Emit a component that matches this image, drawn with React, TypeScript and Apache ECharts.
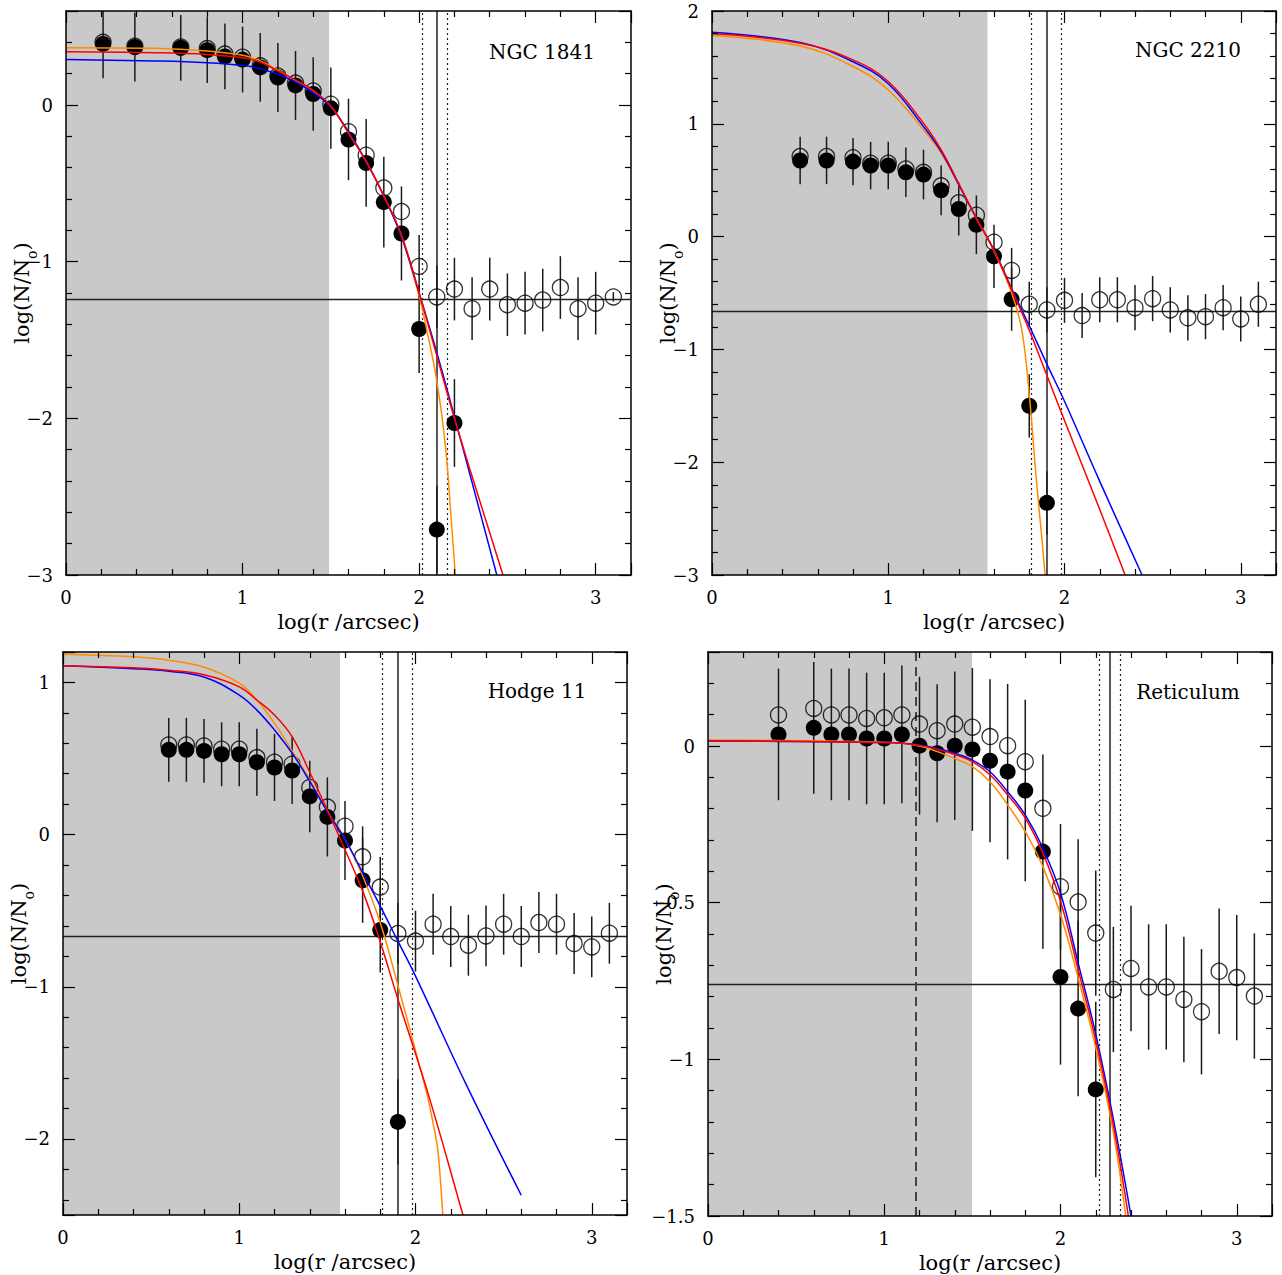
import React, { useEffect, useRef } from "react";
import * as echarts from "echarts";

const FONT = "'DejaVu Serif', 'Liberation Serif', serif";

// ---------------- NGC 1841 ----------------
const n1841Label = "NGC 1841";
const n1841FilledX = [0.21, 0.39, 0.65, 0.8, 0.9, 1.0, 1.1, 1.2, 1.3, 1.4, 1.5, 1.6, 1.7, 1.8, 1.9, 2.0, 2.1, 2.2];
const n1841FilledY = [0.39, 0.37, 0.365, 0.35, 0.31, 0.29, 0.24, 0.175, 0.125, 0.07, -0.02, -0.22, -0.37, -0.62, -0.82, -1.43, -2.71, -2.03];
const n1841FilledErr = [0.22, 0.22, 0.21, 0.21, 0.21, 0.21, 0.22, 0.22, 0.22, 0.235, 0.26, 0.26, 0.28, 0.29, 0.3, 0.28, 0.28, 0.28];
const n1841OpenX = [0.21, 0.39, 0.65, 0.8, 0.9, 1.0, 1.1, 1.2, 1.3, 1.4, 1.5, 1.6, 1.7, 1.8, 1.9, 2.0, 2.1, 2.2, 2.3, 2.4, 2.5, 2.6, 2.7, 2.8, 2.9, 3.0, 3.1];
const n1841OpenY = [0.4, 0.375, 0.37, 0.36, 0.325, 0.305, 0.25, 0.185, 0.14, 0.09, 0.005, -0.17, -0.32, -0.53, -0.68, -1.03, -1.225, -1.175, -1.3, -1.175, -1.275, -1.265, -1.245, -1.165, -1.3, -1.265, -1.225];
const n1841OpenErr = [0, 0, 0, 0, 0, 0, 0, 0, 0, 0, 0, 0, 0, 0, 0, 0.2, 0.2, 0.2, 0.2, 0.2, 0.2, 0.2, 0.2, 0.2, 0.2, 0.2, 0.03];
const n1841Blue = [[0, 0.291], [0.5, 0.281], [0.8, 0.27], [1.0, 0.253], [1.1, 0.232], [1.2, 0.196], [1.3, 0.147], [1.4, 0.079], [1.5, -0.013], [1.6, -0.17], [1.7, -0.36], [1.8, -0.58], [1.9, -0.84], [2.0, -1.2], [2.1, -1.58], [2.2, -1.99], [2.3, -2.41], [2.44, -3.0]];
const n1841Red = [[0, 0.34], [0.5, 0.334], [0.8, 0.323], [1.0, 0.302], [1.1, 0.274], [1.2, 0.217], [1.3, 0.16], [1.4, 0.094], [1.5, -0.006], [1.6, -0.18], [1.7, -0.36], [1.8, -0.58], [1.9, -0.83], [2.0, -1.2], [2.1, -1.6], [2.2, -2.0], [2.3, -2.37], [2.4, -2.73], [2.475, -3.0]];
const n1841Orange = [[0, 0.366], [0.5, 0.362], [0.8, 0.345], [1.0, 0.317], [1.1, 0.281], [1.2, 0.222], [1.3, 0.156], [1.4, 0.09], [1.5, -0.01], [1.6, -0.18], [1.7, -0.36], [1.8, -0.58], [1.9, -0.84], [2.0, -1.22], [2.04, -1.42], [2.1, -1.76], [2.15, -2.19], [2.18, -2.62], [2.205, -3.0]];
const n1841Background = -1.24;
const n1841Solid = [2.1];
const n1841Dotted = [2.02, 2.16];
const n1841Dashed: number[] = [];
const n1841Shade = 1.49;

// ---------------- NGC 2210 ----------------
const n2210Label = "NGC 2210";
const n2210FilledX = [0.5, 0.65, 0.8, 0.9, 1.0, 1.1, 1.2, 1.3, 1.4, 1.5, 1.6, 1.7, 1.8, 1.9];
const n2210FilledY = [0.675, 0.675, 0.665, 0.63, 0.63, 0.57, 0.55, 0.41, 0.245, 0.105, -0.175, -0.555, -1.5, -2.36];
const n2210FilledErr = [0.21, 0.21, 0.21, 0.21, 0.21, 0.22, 0.22, 0.22, 0.235, 0.26, 0.28, 0.28, 0.28, 0.28];
const n2210OpenX = [0.5, 0.65, 0.8, 0.9, 1.0, 1.1, 1.2, 1.3, 1.4, 1.5, 1.6, 1.7, 1.8, 1.9, 2.0, 2.1, 2.2, 2.3, 2.4, 2.5, 2.6, 2.7, 2.8, 2.9, 3.0, 3.1];
const n2210OpenY = [0.71, 0.71, 0.7, 0.65, 0.65, 0.6, 0.57, 0.45, 0.3, 0.19, -0.05, -0.3, -0.6, -0.65, -0.565, -0.7, -0.56, -0.56, -0.63, -0.55, -0.65, -0.72, -0.71, -0.63, -0.73, -0.6];
const n2210OpenErr = [0, 0, 0, 0, 0, 0, 0, 0, 0, 0, 0, 0.2, 0.2, 0.2, 0.2, 0.2, 0.2, 0.2, 0.2, 0.2, 0.2, 0.2, 0.2, 0.2, 0.2, 0.2];
const n2210Blue = [[0, 1.812], [0.5, 1.72], [0.8, 1.55], [1.0, 1.355], [1.2, 0.976], [1.3, 0.755], [1.4, 0.46], [1.5, 0.164], [1.6, -0.12], [1.7, -0.46], [1.8, -0.79], [1.9, -1.13], [2.0, -1.46], [2.2, -2.17], [2.44, -3.0]];
const n2210Red = [[0, 1.798], [0.5, 1.715], [0.8, 1.567], [1.0, 1.375], [1.2, 1.006], [1.3, 0.77], [1.4, 0.47], [1.5, 0.164], [1.6, -0.12], [1.7, -0.47], [1.8, -0.83], [1.9, -1.23], [2.0, -1.63], [2.2, -2.42], [2.344, -3.0]];
const n2210Orange = [[0, 1.783], [0.5, 1.69], [0.8, 1.508], [1.0, 1.3], [1.2, 0.947], [1.3, 0.74], [1.4, 0.46], [1.5, 0.16], [1.6, -0.13], [1.7, -0.5], [1.757, -0.82], [1.8, -1.4], [1.84, -2.15], [1.87, -2.65], [1.89, -3.0]];
const n2210Background = -0.662;
const n2210Solid = [1.903];
const n2210Dotted = [1.813, 1.981];
const n2210Dashed: number[] = [];
const n2210Shade = 1.563;

// ---------------- Hodge 11 ----------------
const h11Label = "Hodge 11";
const h11FilledX = [0.6, 0.7, 0.8, 0.9, 1.0, 1.1, 1.2, 1.3, 1.4, 1.5, 1.6, 1.7, 1.8, 1.9];
const h11FilledY = [0.557, 0.557, 0.55, 0.528, 0.528, 0.476, 0.441, 0.421, 0.251, 0.116, -0.039, -0.3, -0.627, -1.888];
const h11FilledErr = [0.21, 0.21, 0.21, 0.21, 0.21, 0.22, 0.22, 0.22, 0.235, 0.26, 0.26, 0.28, 0.28, 0.28];
const h11OpenX = [0.6, 0.7, 0.8, 0.9, 1.0, 1.1, 1.2, 1.3, 1.4, 1.5, 1.6, 1.7, 1.8, 1.9, 2.0, 2.1, 2.2, 2.3, 2.4, 2.5, 2.6, 2.7, 2.8, 2.9, 3.0, 3.1];
const h11OpenY = [0.589, 0.589, 0.583, 0.561, 0.561, 0.506, 0.476, 0.463, 0.31, 0.181, 0.055, -0.146, -0.345, -0.65, -0.7, -0.589, -0.67, -0.727, -0.666, -0.589, -0.67, -0.578, -0.589, -0.716, -0.738, -0.648];
const h11OpenErr = [0, 0, 0, 0, 0, 0, 0, 0, 0, 0, 0, 0.2, 0.2, 0.2, 0.2, 0.2, 0.2, 0.2, 0.2, 0.2, 0.2, 0.2, 0.2, 0.2, 0.2, 0.2];
const h11Blue = [[0, 1.109], [0.4, 1.09], [0.6, 1.074], [0.8, 1.036], [1.0, 0.917], [1.1, 0.818], [1.2, 0.688], [1.3, 0.535], [1.4, 0.35], [1.5, 0.15], [1.6, -0.03], [1.7, -0.25], [1.8, -0.47], [1.9, -0.7], [2.0, -0.93], [2.29, -1.648], [2.6, -2.37]];
const h11Red = [[0, 1.109], [0.4, 1.096], [0.6, 1.08], [0.8, 1.05], [1.0, 0.971], [1.1, 0.884], [1.2, 0.786], [1.3, 0.644], [1.4, 0.41], [1.5, 0.16], [1.6, -0.1], [1.7, -0.37], [1.788, -0.662], [1.9, -1.08], [2.08, -1.735], [2.267, -2.49], [2.27, -2.5]];
const h11Orange = [[0, 1.185], [0.4, 1.168], [0.6, 1.146], [0.8, 1.1], [1.0, 0.995], [1.1, 0.884], [1.2, 0.731], [1.3, 0.55], [1.4, 0.36], [1.5, 0.153], [1.6, -0.03], [1.7, -0.27], [1.8, -0.58], [1.9, -0.99], [2.0, -1.42], [2.07, -1.73], [2.1, -1.9], [2.124, -2.05], [2.14, -2.25], [2.155, -2.5]];
const h11Background = -0.672;
const h11Solid = [1.903];
const h11Dotted = [1.815, 1.977];
const h11Dashed: number[] = [];
const h11Shade = 1.572;

// ---------------- Reticulum ----------------
const retLabel = "Reticulum";
const retFilledX = [0.4, 0.6, 0.7, 0.8, 0.9, 1.0, 1.1, 1.2, 1.3, 1.4, 1.5, 1.6, 1.7, 1.8, 1.9, 2.0, 2.1, 2.2];
const retFilledY = [0.037, 0.058, 0.037, 0.037, 0.024, 0.024, 0.037, 0.001, -0.023, 0.001, -0.011, -0.047, -0.082, -0.142, -0.337, -0.737, -0.838, -1.096];
const retFilledErr = [0.21, 0.21, 0.21, 0.21, 0.21, 0.21, 0.22, 0.22, 0.22, 0.237, 0.26, 0.26, 0.28, 0.29, 0.31, 0.28, 0.28, 0.28];
const retOpenX = [0.4, 0.6, 0.7, 0.8, 0.9, 1.0, 1.1, 1.2, 1.3, 1.4, 1.5, 1.6, 1.7, 1.8, 1.9, 2.0, 2.1, 2.2, 2.3, 2.4, 2.5, 2.6, 2.7, 2.8, 2.9, 3.0, 3.1];
const retOpenY = [0.099, 0.12, 0.099, 0.099, 0.088, 0.09, 0.099, 0.07, 0.049, 0.07, 0.06, 0.03, 0.001, -0.05, -0.199, -0.449, -0.498, -0.597, -0.777, -0.71, -0.769, -0.769, -0.809, -0.848, -0.719, -0.739, -0.798];
const retOpenErr = [0, 0, 0, 0, 0, 0, 0, 0, 0, 0, 0, 0, 0, 0, 0, 0.2, 0.2, 0.2, 0.2, 0.2, 0.2, 0.2, 0.2, 0.2, 0.2, 0.2, 0.2];
const retBlue = [[0, 0.016], [1.0, 0.011], [1.2, 0.003], [1.4, -0.023], [1.5, -0.045], [1.6, -0.082], [1.7, -0.146], [1.8, -0.22], [1.9, -0.326], [2.0, -0.469], [2.1, -0.692], [2.2, -0.92], [2.3, -1.191], [2.4, -1.5]];
const retRed = [[0, 0.016], [1.0, 0.011], [1.2, 0.002], [1.4, -0.027], [1.5, -0.05], [1.6, -0.092], [1.7, -0.156], [1.8, -0.23], [1.9, -0.342], [2.0, -0.495], [2.1, -0.713], [2.2, -0.94], [2.3, -1.21], [2.385, -1.5]];
const retOrange = [[0, 0.019], [1.0, 0.012], [1.2, 0.0], [1.4, -0.04], [1.5, -0.066], [1.6, -0.114], [1.7, -0.188], [1.8, -0.273], [1.9, -0.385], [2.0, -0.538], [2.1, -0.74], [2.2, -0.963], [2.3, -1.234], [2.37, -1.5]];
const retBackground = -0.764;
const retSolid = [2.284];
const retDotted = [2.22, 2.338];
const retDashed = [1.179];
const retShade = 1.498;

// axis ranges: [xMin, xMax, xStep, yMin, yMax, yStep]
const n1841Range = [0, 3.2, 1, -3, 0.6, 1];
const n2210Range = [0, 3.2, 1, -3, 2, 1];
const h11Range = [0, 3.2, 1, -2.5, 1.2, 1];
const retRange = [0, 3.2, 1, -1.5, 0.3, 0.5];

const panels = [
  { label: n1841Label, fx: n1841FilledX, fy: n1841FilledY, fe: n1841FilledErr, ox: n1841OpenX, oy: n1841OpenY, oe: n1841OpenErr, blue: n1841Blue, red: n1841Red, orange: n1841Orange, bg: n1841Background, solid: n1841Solid, dotted: n1841Dotted, dashed: n1841Dashed, shade: n1841Shade, range: n1841Range, grid: { left: 66, top: 11, width: 565, height: 564 }, text: [542, 52] },
  { label: n2210Label, fx: n2210FilledX, fy: n2210FilledY, fe: n2210FilledErr, ox: n2210OpenX, oy: n2210OpenY, oe: n2210OpenErr, blue: n2210Blue, red: n2210Red, orange: n2210Orange, bg: n2210Background, solid: n2210Solid, dotted: n2210Dotted, dashed: n2210Dashed, shade: n2210Shade, range: n2210Range, grid: { left: 712, top: 11, width: 564, height: 564 }, text: [1188, 50] },
  { label: h11Label, fx: h11FilledX, fy: h11FilledY, fe: h11FilledErr, ox: h11OpenX, oy: h11OpenY, oe: h11OpenErr, blue: h11Blue, red: h11Red, orange: h11Orange, bg: h11Background, solid: h11Solid, dotted: h11Dotted, dashed: h11Dashed, shade: h11Shade, range: h11Range, grid: { left: 63, top: 652, width: 564, height: 563 }, text: [537, 691] },
  { label: retLabel, fx: retFilledX, fy: retFilledY, fe: retFilledErr, ox: retOpenX, oy: retOpenY, oe: retOpenErr, blue: retBlue, red: retRed, orange: retOrange, bg: retBackground, solid: retSolid, dotted: retDotted, dashed: retDashed, shade: retShade, range: retRange, grid: { left: 708, top: 652, width: 564, height: 564 }, text: [1188, 692] },
];

const fmt = (step: number) => (v: number) => {
  const k = v / step;
  if (Math.abs(k - Math.round(k)) > 1e-6) return "";
  const r = Math.round(k) * step;
  const s = String(parseFloat(r.toFixed(3)));
  return s.replace("-", "\u2212");
};

function makeAxis(min: number, max: number, step: number, position: string, gridIndex: number, withLabels: boolean, isY: boolean) {
  const ax: any = {
    type: "value",
    gridIndex,
    min,
    max,
    minInterval: step,
    maxInterval: step,
    position,
    z: 10,
    nameMoveOverlap: false,
    axisLine: { show: true, onZero: false, lineStyle: { color: "#000", width: 1.5 } },
    axisTick: { show: true, inside: true, length: 12, lineStyle: { color: "#000", width: 1.2 } },
    minorTick: { show: true, splitNumber: 5, length: 6, lineStyle: { color: "#000", width: 1.2 } },
    splitLine: { show: false },
    minorSplitLine: { show: false },
    axisLabel: withLabels
      ? { show: true, fontFamily: FONT, fontSize: 18, color: "#000", margin: 13, formatter: fmt(step), showMinLabel: true, showMaxLabel: true, hideOverlap: false }
      : { show: false },
  };
  if (withLabels && !isY) {
    ax.name = "log(r /arcsec)";
    ax.nameLocation = "middle";
    ax.nameGap = 36;
    ax.nameTextStyle = { fontFamily: FONT, fontSize: 21, color: "#000" };
  }
  if (withLabels && isY) {
    ax.name = "{a|log(N/N}{s|o}{a|)}";
    ax.nameLocation = "middle";
    ax.nameGap = 27;
    ax.nameTextStyle = {
      fontFamily: FONT,
      fontSize: 21,
      color: "#000",
      rich: {
        a: { fontFamily: FONT, fontSize: 21, lineHeight: 34, color: "#000" },
        s: { fontFamily: FONT, fontSize: 14, lineHeight: 14, verticalAlign: "bottom", color: "#000" },
      },
    };
  }
  return ax;
}

function buildOption() {
  const grid: any[] = [];
  const xAxis: any[] = [];
  const yAxis: any[] = [];
  const series: any[] = [];
  const graphic: any[] = [];

  panels.forEach((p, i) => {
    const [x0, x1, xs, y0, y1, ys] = p.range;
    grid.push({ ...p.grid, containLabel: false, outerBoundsMode: "none" });
    xAxis.push(makeAxis(x0, x1, xs, "bottom", i, true, false));
    xAxis.push(makeAxis(x0, x1, xs, "top", i, false, false));
    yAxis.push(makeAxis(y0, y1, ys, "left", i, true, true));
    yAxis.push(makeAxis(y0, y1, ys, "right", i, false, true));
    const xi = 2 * i;
    const yi = 2 * i;

    const markLines: any[] = [];
    markLines.push({ yAxis: p.bg, lineStyle: { type: "solid", color: "#222", width: 1.4 } });
    p.solid.forEach((v) => markLines.push({ xAxis: v, lineStyle: { type: "solid", color: "#222", width: 1.5 } }));
    p.dotted.forEach((v) => markLines.push({ xAxis: v, lineStyle: { type: [2, 3], color: "#222", width: 1.2 } }));
    p.dashed.forEach((v) => markLines.push({ xAxis: v, lineStyle: { type: [9, 6], color: "#444", width: 2 } }));

    const errBars = (xsArr: number[], ysArr: number[], es: number[], z: number) => ({
      type: "custom",
      xAxisIndex: xi,
      yAxisIndex: yi,
      silent: true,
      clip: true,
      z,
      data: xsArr.map((x, j) => [x, ysArr[j], es[j]]),
      renderItem: (params: any, api: any) => {
        const x = api.value(0);
        const y = api.value(1);
        const e = api.value(2);
        if (!e) return { type: "group", children: [] };
        const lo = Math.max(y - e, y0);
        const hi = Math.min(y + e, y1);
        const a = api.coord([x, lo]);
        const b = api.coord([x, hi]);
        return {
          type: "line",
          shape: { x1: a[0], y1: a[1], x2: b[0], y2: b[1] },
          style: { stroke: "#1a1a1a", lineWidth: 1.5 },
        };
      },
    });

    series.push(errBars(p.fx, p.fy, p.fe, 3));
    series.push(errBars(p.ox, p.oy, p.oe, 3));

    series.push({
      type: "scatter",
      xAxisIndex: xi,
      yAxisIndex: yi,
      silent: true,
      z: 4,
      symbol: "circle",
      symbolSize: 16,
      itemStyle: { color: "rgba(255,255,255,0)", borderColor: "#000", borderWidth: 1.3 },
      data: p.ox.map((x, j) => [x, p.oy[j]]),
      markArea: {
        silent: true,
        z: 1,
        itemStyle: { color: "#c9c9c9", opacity: 1, borderWidth: 0 },
        label: { show: false },
        data: [[{ xAxis: x0 }, { xAxis: p.shade }]],
      },
      markLine: {
        silent: true,
        z: 2,
        symbol: ["none", "none"],
        label: { show: false },
        data: markLines,
      },
    });

    series.push({
      type: "scatter",
      xAxisIndex: xi,
      yAxisIndex: yi,
      silent: true,
      z: 5,
      symbol: "circle",
      symbolSize: 16,
      itemStyle: { color: "#000", borderWidth: 0, opacity: 1 },
      data: p.fx.map((x, j) => [x, p.fy[j]]),
    });

    const curve = (data: number[][], color: string, z: number) => ({
      type: "line",
      xAxisIndex: xi,
      yAxisIndex: yi,
      silent: true,
      z,
      data,
      smooth: 0.4,
      showSymbol: false,
      symbol: "none",
      clip: true,
      lineStyle: { color, width: 1.5 },
    });
    series.push(curve(p.orange, "#ff8c00", 6));
    series.push(curve(p.blue, "#0000ff", 7));
    series.push(curve(p.red, "#ff0000", 8));

    graphic.push({
      type: "text",
      x: p.text[0],
      y: p.text[1],
      z: 20,
      style: { text: p.label, fontFamily: FONT, fontSize: 20, fill: "#000", align: "center", verticalAlign: "middle" },
    });
  });

  return {
    animation: false,
    backgroundColor: "#fff",
    grid,
    xAxis,
    yAxis,
    series,
    graphic,
  };
}

export default function App() {
  const ref = useRef<HTMLDivElement>(null);
  useEffect(() => {
    if (!ref.current) return;
    const chart = echarts.init(ref.current, null, { renderer: "svg" });
    chart.setOption(buildOption() as any);
    return () => chart.dispose();
  }, []);
  return <div ref={ref} style={{ position: "absolute", left: 0, top: 0, width: 1282, height: 1275 }} />;
}
